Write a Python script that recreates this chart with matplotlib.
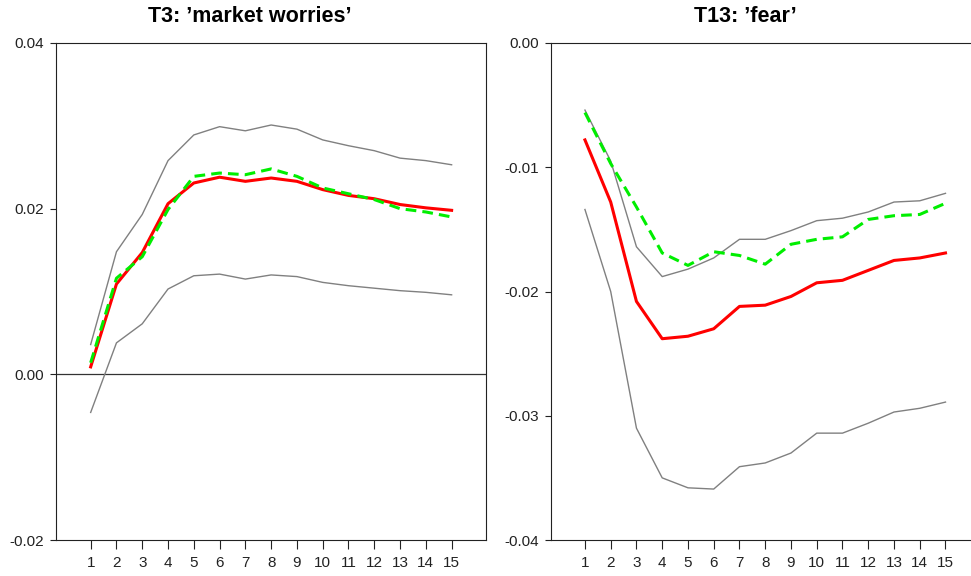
import matplotlib
matplotlib.use("Agg")
import matplotlib.pyplot as plt

plt.rcParams['font.family'] = ['Liberation Sans', 'DejaVu Sans']

horizons = list(range(1, 16))

# Panel 1: T3 'market worries'
t3_upper = [0.0036, 0.0148, 0.0193, 0.0258, 0.0289, 0.0299, 0.0294, 0.0301,
            0.0296, 0.0283, 0.0276, 0.0270, 0.0261, 0.0258, 0.0253]
t3_point = [0.0009, 0.0109, 0.0147, 0.0206, 0.0231, 0.0238, 0.0233, 0.0237,
            0.0233, 0.0223, 0.0216, 0.0212, 0.0205, 0.0201, 0.0198]
t3_alt = [0.0014, 0.0116, 0.0142, 0.0199, 0.0239, 0.0243, 0.0241, 0.0248,
          0.0239, 0.0225, 0.0218, 0.0211, 0.0200, 0.0196, 0.0190]
t3_lower = [-0.0046, 0.0038, 0.0061, 0.0103, 0.0119, 0.0121, 0.0115, 0.0120,
            0.0118, 0.0111, 0.0107, 0.0104, 0.0101, 0.0099, 0.0096]

# Panel 2: T13 'fear'
t13_upper = [-0.0054, -0.0095, -0.0164, -0.0188, -0.0182, -0.0173, -0.0158, -0.0158,
             -0.0151, -0.0143, -0.0141, -0.0136, -0.0128, -0.0127, -0.0121]
t13_point = [-0.0078, -0.0128, -0.0208, -0.0238, -0.0236, -0.0230, -0.0212, -0.0211,
             -0.0204, -0.0193, -0.0191, -0.0183, -0.0175, -0.0173, -0.0169]
t13_alt = [-0.0056, -0.0097, -0.0132, -0.0169, -0.0179, -0.0168, -0.0171, -0.0178,
           -0.0162, -0.0158, -0.0156, -0.0142, -0.0139, -0.0138, -0.0129]
t13_lower = [-0.0134, -0.0200, -0.0310, -0.0350, -0.0358, -0.0359, -0.0341, -0.0338,
             -0.0330, -0.0314, -0.0314, -0.0306, -0.0297, -0.0294, -0.0289]

titles = ["T3: \u2019market worries\u2019", "T13: \u2019fear\u2019"]
yticks1 = [-0.02, 0.00, 0.02, 0.04]
yticks2 = [-0.04, -0.03, -0.02, -0.01, 0.00]

fig = plt.figure(figsize=(9.71, 5.76), dpi=100)
ax1 = fig.add_axes([56/971, 1-540/576, (486.3-56)/971, (540-43)/576])
ax2 = fig.add_axes([550.7/971, 1-540/576, (980-550.7)/971, (540-43)/576])

def draw(ax, up, pt, alt, lo, yt, ylim, xlim, fmt):
    ax.plot(horizons, up, color='#808080', lw=1.0)
    ax.plot(horizons, lo, color='#808080', lw=1.0)
    ax.plot(horizons, pt, color='#ff0000', lw=2.2)
    ax.plot(horizons, alt, color='#00ee00', lw=2.2, dashes=(3.5, 2.0))
    ax.set_xlim(*xlim)
    ax.set_ylim(*ylim)
    ax.set_xticks(horizons)
    ax.set_yticks(yt)
    ax.set_yticklabels([fmt.format(v).replace('-0.00', '0.00') for v in yt])
    ax.tick_params(axis='x', length=6.5, width=0.8, labelsize=11, pad=5, colors='#222222')
    ax.tick_params(axis='y', length=4.3, width=0.8, labelsize=11, pad=4, colors='#222222')
    for s in ax.spines.values():
        s.set_linewidth(0.8)
        s.set_color('#222222')

draw(ax1, t3_upper, t3_point, t3_alt, t3_lower, yticks1, (-0.02, 0.04), (-0.345, 16.345), "{:.2f}")
ax1.axhline(0, color='#333333', lw=0.9, zorder=1)
draw(ax2, t13_upper, t13_point, t13_alt, t13_lower, yticks2, (-0.04, 0.0), (-0.33, 16.34), "{:.2f}")

fig.text(250/971, 1-16/576, titles[0], ha='center', va='center', fontsize=15.5, fontweight='bold')
fig.text(745/971, 1-16/576, titles[1], ha='center', va='center', fontsize=15.5, fontweight='bold')

fig.savefig("out.png", dpi=100)
